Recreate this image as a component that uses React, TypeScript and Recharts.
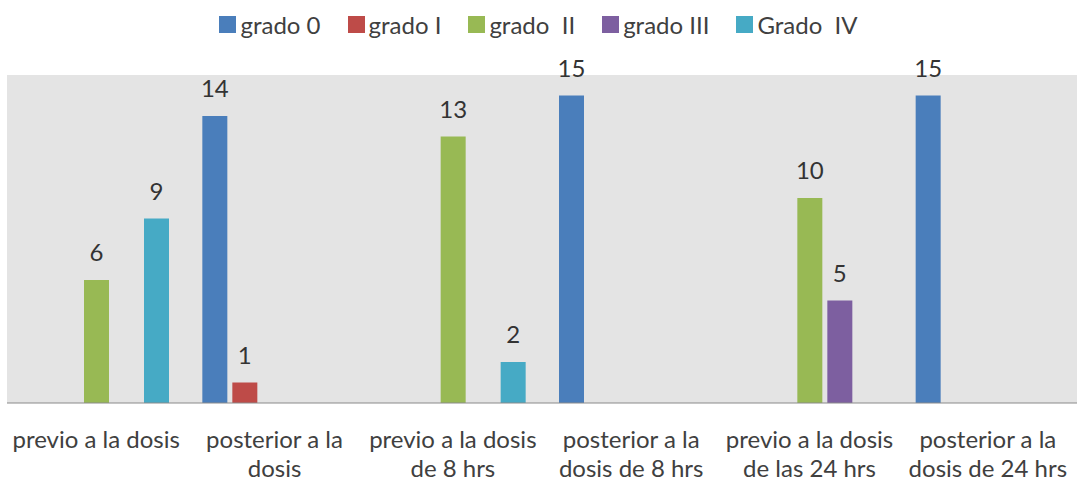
import { BarChart, Bar, XAxis, YAxis, CartesianGrid, LabelList } from 'recharts'

const categories = [
  'previo a la dosis',
  'posterior a la dosis',
  'previo a la dosis de 8 hrs',
  'posterior a la dosis de 8 hrs',
  'previo a la dosis de las 24 hrs',
  'posterior a la dosis de 24 hrs',
]

// how each category label breaks across lines under the axis
const categoryLines = [
  ['previo a la dosis'],
  ['posterior a la', 'dosis'],
  ['previo a la dosis', 'de 8 hrs'],
  ['posterior a la', 'dosis de 8 hrs'],
  ['previo a la dosis', 'de las 24 hrs'],
  ['posterior a la', 'dosis de 24 hrs'],
]

const grado0 = [0, 14, 0, 15, 0, 15]
const gradoI = [0, 1, 0, 0, 0, 0]
const gradoII = [6, 0, 13, 0, 10, 0]
const gradoIII = [0, 0, 0, 0, 5, 0]
const gradoIV = [9, 0, 2, 0, 0, 0]

const series = [
  { key: 'g0', name: 'grado 0', values: grado0, color: '#4a7ebb' },
  { key: 'g1', name: 'grado I', values: gradoI, color: '#be4b48' },
  { key: 'g2', name: 'grado  II', values: gradoII, color: '#98b954' },
  { key: 'g3', name: 'grado III', values: gradoIII, color: '#7d5fa0' },
  { key: 'g4', name: 'Grado  IV', values: gradoIV, color: '#46aac5' },
]

const data = categories.map((name, i) => {
  const row: Record<string, any> = { name }
  series.forEach((s) => (row[s.key] = s.values[i]))
  return row
})

const FONT = 'Lato, "Open Sans", sans-serif'

function CategoryTick({ x, y, payload }: any) {
  const lines = categoryLines[payload.index] ?? [payload.value]
  return (
    <text x={x} y={y} textAnchor="middle" fill="#404040" fontSize={24} fontFamily={FONT}>
      {lines.map((l, i) => (
        <tspan key={i} x={x} dy={i === 0 ? 37 : 29}>
          {l}
        </tspan>
      ))}
    </text>
  )
}

function LegendRow() {
  return (
    <div
      style={{
        position: 'absolute',
        left: 0,
        top: 7,
        width: 1077,
        height: 34,
        display: 'flex',
        justifyContent: 'center',
        alignItems: 'center',
        gap: 27,
        fontFamily: FONT,
        fontSize: 24,
        color: '#404040',
        whiteSpace: 'pre',
      }}
    >
      {series.map((s) => (
        <span key={s.key} style={{ display: 'flex', alignItems: 'center' }}>
          <span style={{ width: 17, height: 17, background: s.color, marginRight: 4, display: 'inline-block' }} />
          {s.name}
        </span>
      ))}
    </div>
  )
}

const hideZero = (v: any) => (v ? v : '')

export default function App() {
  return (
    <div style={{ position: 'absolute', left: 0, top: 0, width: 1077, height: 482, background: '#fff' }}>
      <BarChart
        width={1077}
        height={482}
        data={data}
        margin={{ top: 75, right: 0, left: 7, bottom: 0 }}
        barSize={25}
        barGap={5}
      >
        <CartesianGrid horizontal={false} vertical={false} fill="#e4e4e4" />
        <XAxis
          dataKey="name"
          height={79}
          tickLine={false}
          axisLine={{ stroke: '#8a8a8a' }}
          interval={0}
          tick={<CategoryTick />}
        />
        <YAxis hide domain={[0, 16]} />
        {series.map((s) => (
          <Bar key={s.key} dataKey={s.key} name={s.name} fill={s.color} isAnimationActive={false}>
            <LabelList
              dataKey={s.key}
              position="top"
              offset={19}
              formatter={hideZero}
              fill="#333"
              fontSize={24}
              fontFamily={FONT}
            />
          </Bar>
        ))}
      </BarChart>
      <LegendRow />
    </div>
  )
}
